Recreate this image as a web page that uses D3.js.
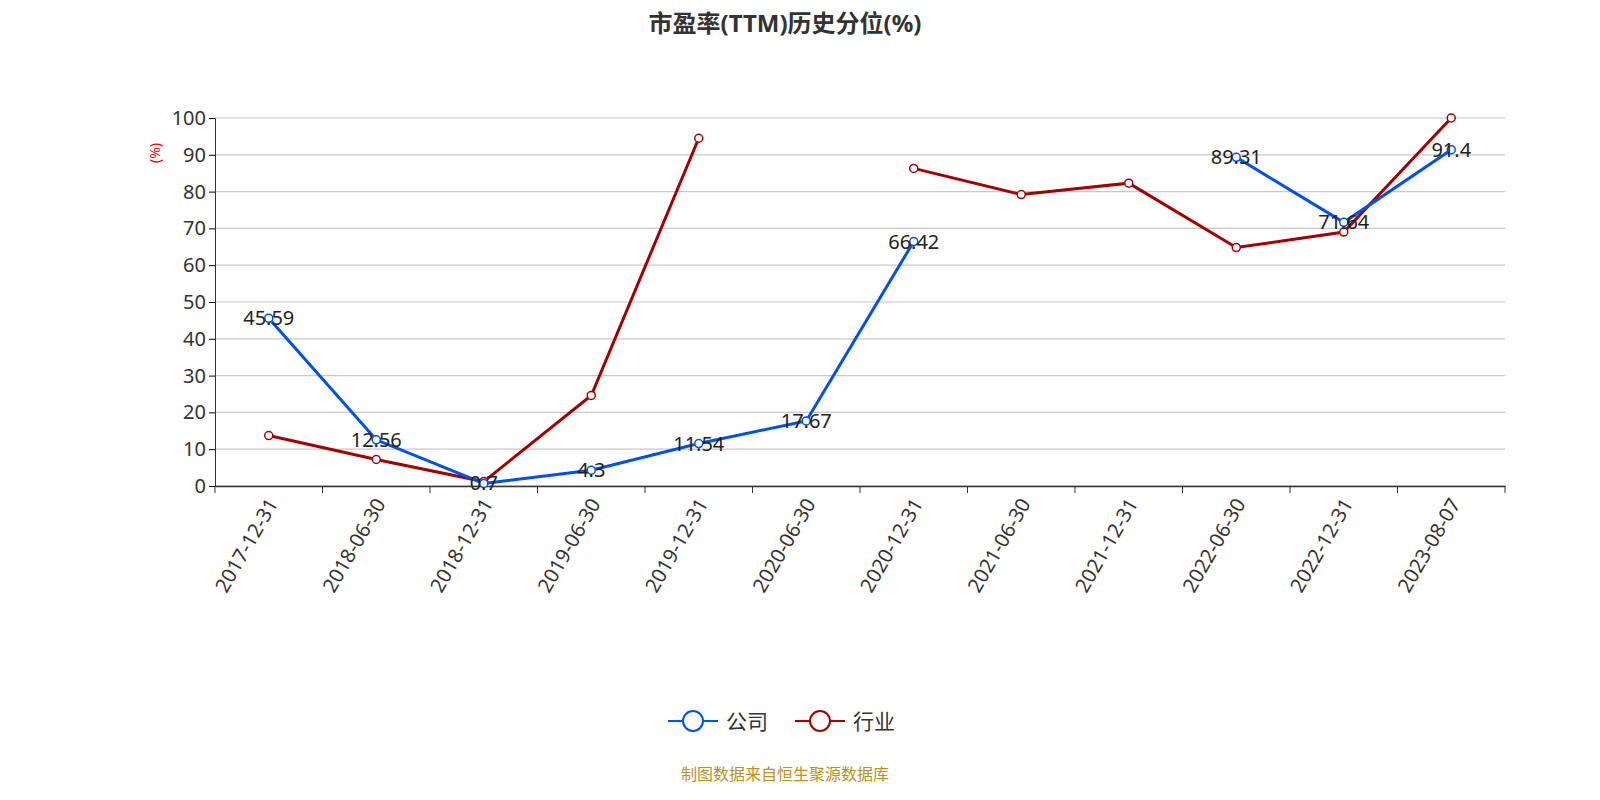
<!DOCTYPE html>
<html><head><meta charset="utf-8">
<script src="https://cdn.jsdelivr.net/npm/d3@7"></script>
<style>body{margin:0;background:#fff;font-family:"Noto Sans","Noto Sans CJK SC",sans-serif;}</style>
</head><body><svg id="c" width="1600" height="800"></svg>
<script>
const categories=["2017-12-31","2018-06-30","2018-12-31","2019-06-30","2019-12-31","2020-06-30","2020-12-31","2021-06-30","2021-12-31","2022-06-30","2022-12-31","2023-08-07"];
const companyValues=[45.59,12.56,0.7,4.3,11.54,17.67,66.42,null,null,89.31,71.64,91.4];
const industryValues=[13.7,7.2,1.2,24.6,94.5,null,86.3,79.2,82.3,64.8,69.0,100];
const yTicks=[0,10,20,30,40,50,60,70,80,90,100];
const svg=d3.select("#c");
const L=215,R=1505,T=118,B=486;
const x=d3.scaleBand().domain(categories).range([L,R]);
const y=d3.scaleLinear().domain([0,100]).range([B,T]);
const cx=d=>x(d)+x.bandwidth()/2;
svg.append("text").attr("x",785).attr("y",32).attr("text-anchor","middle").attr("font-size",24).attr("font-weight","bold").attr("fill","#333").text("市盈率(TTM)历史分位(%)");
svg.append("g").selectAll("line").data(yTicks).join("line").attr("x1",L).attr("x2",R).attr("y1",d=>y(d)).attr("y2",d=>y(d)).attr("stroke","#c8c8c8").attr("stroke-width",1.2);
const ya=svg.append("g").attr("transform",`translate(${L},0)`).call(d3.axisLeft(y).tickValues(yTicks).tickSize(6));
ya.select(".domain").attr("stroke","#333");ya.selectAll("text").attr("font-size",20).attr("fill","#333").attr("font-family","Noto Sans");
svg.append("text").attr("transform","translate(160,153) rotate(-90)").attr("text-anchor","middle").attr("font-size",14).attr("fill","#e00").text("(%)");
const xa=svg.append("g").attr("transform",`translate(0,${B})`).call(d3.axisBottom(x).tickSize(0).tickPadding(0));
xa.select(".domain").attr("stroke","#333").attr("stroke-width",1.5);
xa.selectAll("text").attr("font-size",20).attr("fill","#333").attr("font-family","Noto Sans").attr("text-anchor","end").attr("transform","translate(4,14) rotate(-60)").attr("dy","0.35em");
svg.append("g").selectAll("line").data(d3.range(categories.length+1)).join("line").attr("x1",i=>L+i*x.bandwidth()).attr("x2",i=>L+i*x.bandwidth()).attr("y1",B).attr("y2",B+7).attr("stroke","#333");
function series(vals,color,labels){
  const line=d3.line().defined(d=>d!=null).x((d,i)=>cx(categories[i])).y(d=>y(d));
  svg.append("path").datum(vals).attr("d",line).attr("fill","none").attr("stroke",color).attr("stroke-width",3);
  const pts=vals.map((v,i)=>({v,c:categories[i]})).filter(d=>d.v!=null);
  svg.append("g").selectAll("circle").data(pts).join("circle").attr("cx",d=>cx(d.c)).attr("cy",d=>y(d.v)).attr("r",4).attr("fill","#fff").attr("stroke",color).attr("stroke-width",1.5);
  if(labels) svg.append("g").selectAll("text").data(pts).join("text").attr("x",d=>cx(d.c)).attr("y",d=>y(d.v)+7).attr("text-anchor","middle").attr("font-size",20).attr("fill","#222").text(d=>d.v);
}
series(industryValues,"#a50000",false);
series(companyValues,"#0050f0",true);
const lg=[{n:"公司",c:"#0050f0",x:668},{n:"行业",c:"#a50000",x:795}];
lg.forEach(d=>{const g=svg.append("g");
g.append("line").attr("x1",d.x).attr("x2",d.x+50).attr("y1",721).attr("y2",721).attr("stroke",d.c).attr("stroke-width",2);
g.append("circle").attr("cx",d.x+25).attr("cy",721).attr("r",10).attr("fill","#fff").attr("stroke",d.c).attr("stroke-width",2);
g.append("text").attr("x",d.x+58).attr("y",729).attr("font-size",21).attr("fill","#333").text(d.n);});
svg.append("text").attr("x",785).attr("y",780).attr("text-anchor","middle").attr("font-size",16).attr("fill","#c09020").text("制图数据来自恒生聚源数据库");
</script></body></html>
